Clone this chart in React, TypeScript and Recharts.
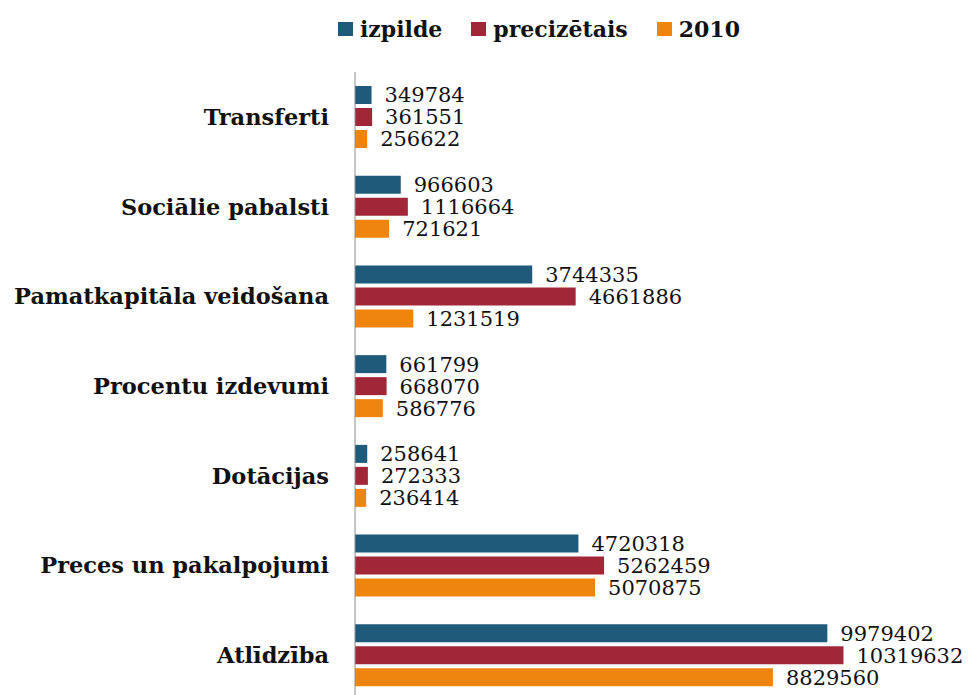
import { BarChart, Bar, XAxis, YAxis, Legend, LabelList } from 'recharts'

// categories, top to bottom
const categories = [
    'Transferti',
    'Sociālie pabalsti',
    'Pamatkapitāla veidošana',
    'Procentu izdevumi',
    'Dotācijas',
    'Preces un pakalpojumi',
    'Atlīdzība',
]

const izpilde = [349784, 966603, 3744335, 661799, 258641, 4720318, 9979402]
const precizetais = [361551, 1116664, 4661886, 668070, 272333, 5262459, 10319632]
const year2010 = [256622, 721621, 1231519, 586776, 236414, 5070875, 8829560]

const seriesNames = ['izpilde', 'precizētais', '2010']

const COLORS = [
    '#1f5a7b', // blue
    '#a12738', // red
    '#f0850d', // orange
]

const FONT = '"DejaVu Serif", serif'

const data = categories.map((name, i) => ({
    name,
    izpilde: izpilde[i],
    precizetais: precizetais[i],
    y2010: year2010[i],
}))

const keys = ['izpilde', 'precizetais', 'y2010']

// Custom legend laid out like the original
const CustomLegend = () => (
    <div style={{ display: 'flex', alignItems: 'center', paddingLeft: 338, height: 30 }}>
        {seriesNames.map((s, i) => (
            <div key={s} style={{ display: 'flex', alignItems: 'center', marginRight: i < 2 ? 29 : 0 }}>
                <span style={{ width: 15, height: 14, background: COLORS[i], display: 'inline-block', marginRight: 7 }} />
                <span style={{ fontFamily: FONT, fontWeight: 'bold', fontSize: 22, color: '#111', lineHeight: '30px' }}>{s}</span>
            </div>
        ))}
    </div>
)

export default function App() {
    return (
        <div style={{ position: 'absolute', left: 0, top: 0, width: 980, height: 700, background: '#fff' }}>
            <BarChart
                width={980}
                height={700}
                data={data}
                layout="vertical"
                margin={{ top: 72, right: 57, left: 0, bottom: 0 }}
                barSize={18}
                barGap={4}
            >
                <XAxis type="number" domain={[0, 12000000]} hide />
                <YAxis
                    type="category"
                    dataKey="name"
                    width={355}
                    axisLine={{ stroke: '#8c8c8c' }}
                    tickLine={false}
                    tickMargin={20}
                    interval={0}
                    tick={{ fontFamily: FONT, fontWeight: 'bold', fontSize: 22.5, fill: '#111' }}
                />
                <Legend
                    verticalAlign="middle"
                    content={<CustomLegend />}
                    wrapperStyle={{ top: 14, left: 0, width: 980 }}
                />
                {keys.map((k, i) => (
                    <Bar key={k} dataKey={k} name={seriesNames[i]} fill={COLORS[i]} isAnimationActive={false}>
                        <LabelList
                            dataKey={k}
                            position="right"
                            offset={13}
                            style={{ fontFamily: FONT, fontSize: 21, fill: '#111' }}
                        />
                    </Bar>
                ))}
            </BarChart>
        </div>
    )
}
